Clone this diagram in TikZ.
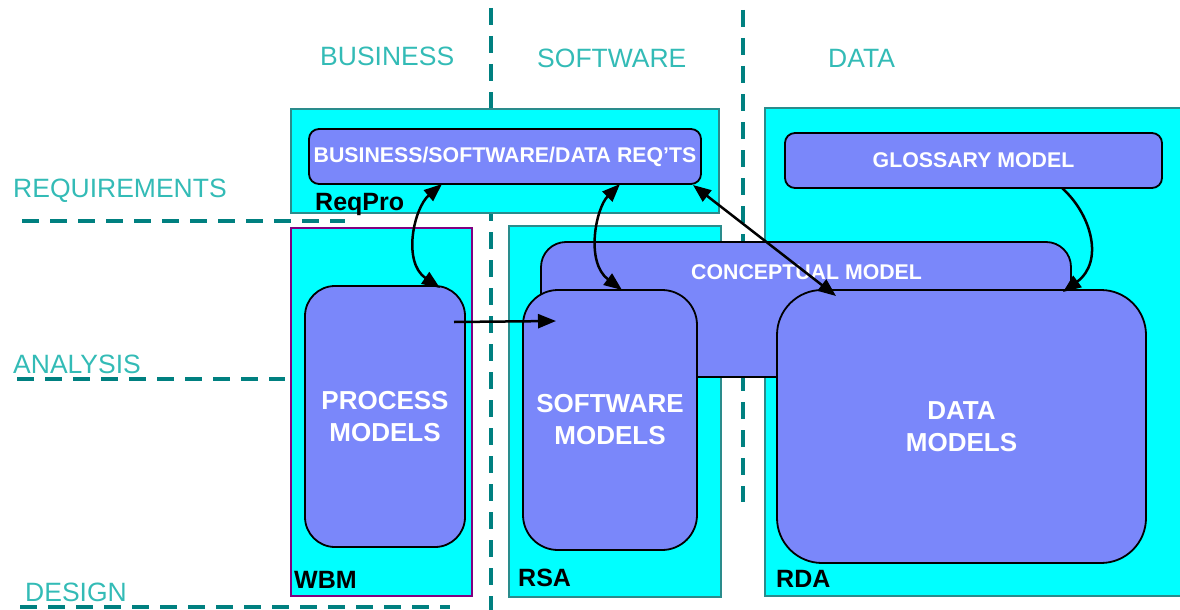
\documentclass[tikz,border=0pt]{standalone}
\usepackage{fontspec}
\setmainfont{Liberation Sans}
\usetikzlibrary{arrows.meta}
\definecolor{cyanfill}{HTML}{00FFFF}
\definecolor{tealline}{HTML}{008080}
\definecolor{tealborder}{HTML}{2A8C8C}
\definecolor{wbmborder}{HTML}{800080}
\definecolor{bluefill}{HTML}{7A87FA}
\definecolor{lanecolor}{HTML}{33BBB6}
\begin{document}
\begin{tikzpicture}[x=1pt,y=-1pt,
  lane/.style={anchor=base west,inner sep=0pt,text=lanecolor,font=\fontsize{26.5}{30}\selectfont},
  divider/.style={draw=tealline,line width=4pt,dash pattern=on 17pt off 11pt},
  cbox/.style={draw=tealborder,fill=cyanfill,line width=1.8pt,inner sep=0pt,outer sep=0pt},
  bbox/.style={draw=black,fill=bluefill,line width=1.8pt,inner sep=0pt,outer sep=0pt,text=white,align=center},
  smalltxt/.style={font=\bfseries\fontsize{21.3}{25}\selectfont},
  bigtxt/.style={font=\bfseries\fontsize{26}{32}\selectfont},
  toollbl/.style={anchor=base west,inner sep=0pt,font=\bfseries\fontsize{25}{30}\selectfont},
  arr/.style={line width=2.5pt,-{Triangle[length=18pt,width=14pt]}},
  darr/.style={line width=2.5pt,{Triangle[length=18pt,width=14pt]}-{Triangle[length=18pt,width=14pt]}}
]
\useasboundingbox (0,0) rectangle (1180,610);

% lane labels
\node[lane] (lbus) at (320,66) {BUSINESS};
\node[lane] (lsw) at (537,67) {SOFTWARE};
\node[lane] (ldata) at (828,67) {DATA};
\node[lane] (lreq) at (13,197) {REQUIREMENTS};
\node[lane] (lana) at (13,373) {ANALYSIS};
\node[lane] (ldes) at (25,601) {DESIGN};

% dividers
\draw[divider,line width=3.5pt] (491,8) -- (491,612);
\draw[divider,line width=3.5pt] (743,10) -- (743,502);
\draw[divider] (22,221) -- (345,221);
\draw[divider] (17,379) -- (285,379);
\draw[divider] (20,607) -- (450,607);

% tool boxes
\node[cbox,minimum width=428pt,minimum height=104pt] (reqpro) at (505,161) {};
\node[cbox,draw=wbmborder,minimum width=181pt,minimum height=368pt] (wbm) at (381.5,412) {};
\node[cbox,minimum width=212pt,minimum height=371pt] (rsa) at (615,411.5) {};
\node[cbox,minimum width=416pt,minimum height=488pt] (rda) at (973,352) {};

\node[toollbl] (reqprolbl) at (315,210) {ReqPro};
\node[toollbl] (wbmlbl) at (294,588) {WBM};
\node[toollbl] (rsalbl) at (518,586) {RSA};
\node[toollbl] (rdalbl) at (776,587) {RDA};

% model boxes
\node[bbox,smalltxt,rounded corners=10pt,minimum width=392pt,minimum height=55pt] (req) at (505,156.5) {BUSINESS/SOFTWARE/DATA REQ’TS};
\node[bbox,smalltxt,rounded corners=10pt,minimum width=377pt,minimum height=55pt] (gloss) at (973.5,160.5) {GLOSSARY MODEL};
\node[bbox,rounded corners=25pt,minimum width=530pt,minimum height=135pt] (concept) at (806,309.5) {};
\node[anchor=base west,inner sep=0pt,text=white,smalltxt] (conceptlbl) at (691,279) {CONCEPTUAL MODEL};
\node[bbox,bigtxt,rounded corners=30pt,minimum width=160pt,minimum height=261pt] (proc) at (385,416.5) {PROCESS\\MODELS};
\node[bbox,bigtxt,rounded corners=35pt,minimum width=174pt,minimum height=260pt] (soft) at (610,420) {SOFTWARE\\MODELS};
\node[bbox,bigtxt,rounded corners=45pt,minimum width=369pt,minimum height=273pt] (data) at (961.5,426.5) {DATA\\MODELS};

% connectors
\draw[darr] ([xshift=133pt]req.south west) .. controls (414,208) and (402,262) .. ([xshift=135pt,yshift=-2pt]proc.north west);
\draw[darr] ([xshift=311pt]req.south west) .. controls (596,208) and (585,262) .. ([xshift=99pt]soft.north west);
\draw[darr] ([xshift=-8pt,yshift=-1pt]req.south east) -- ([xshift=59pt,yshift=-6pt]data.north west);
\draw[arr] ([xshift=277pt]gloss.south west) .. controls (1092,215) and (1104,262) .. ([xshift=286pt,yshift=-2pt]data.north west);
\draw[arr] ([xshift=-11pt,yshift=-36pt]proc.north east) -- ([xshift=33pt,yshift=-31pt]soft.north west);
\end{tikzpicture}
\end{document}
